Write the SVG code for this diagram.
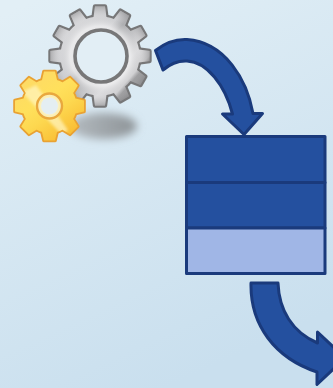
<svg xmlns="http://www.w3.org/2000/svg" width="333" height="388" viewBox="0 0 333 388">
<style>
.blue{fill:#24509f;stroke:#1a3a7c;stroke-width:3;stroke-linejoin:round}
.light{fill:#a0b6e6;stroke:#1a3a7c;stroke-width:3;stroke-linejoin:round}
.gs{stroke:#777778;stroke-width:4.400;fill:#777778;stroke-linejoin:round}
.ys{stroke:#e9a233;stroke-width:3.600;fill:#e9a233;stroke-linejoin:round}
</style>
<defs>
<linearGradient id="bg" x1="0.1" y1="0" x2="0.5" y2="1"><stop offset="0" stop-color="#e2eff6"/><stop offset="1" stop-color="#c9dfee"/></linearGradient>
<linearGradient id="gg" gradientUnits="userSpaceOnUse" x1="60" y1="22" x2="140" y2="92"><stop offset="0" stop-color="#dcdcde"/><stop offset="0.38" stop-color="#cfd0d3"/><stop offset="0.46" stop-color="#a9aaad"/><stop offset="0.72" stop-color="#dedee0"/><stop offset="0.84" stop-color="#d0d0d2"/><stop offset="0.88" stop-color="#969698"/><stop offset="1" stop-color="#858587"/></linearGradient>
<radialGradient id="edge" gradientUnits="userSpaceOnUse" cx="100" cy="56" r="50"><stop offset="0.6" stop-color="#f2f2f3" stop-opacity="0.7"/><stop offset="0.78" stop-color="#d0d0d2" stop-opacity="0.1"/><stop offset="1" stop-color="#8c8c8e" stop-opacity="0.6"/></radialGradient>
<linearGradient id="yg" gradientUnits="userSpaceOnUse" x1="25" y1="72" x2="72" y2="140"><stop offset="0" stop-color="#fdd968"/><stop offset="0.4" stop-color="#ffe05c"/><stop offset="0.6" stop-color="#fdd850"/><stop offset="1" stop-color="#f8b82e"/></linearGradient>
<linearGradient id="sh" x1="0" y1="0" x2="1" y2="0"><stop offset="0" stop-color="#b4bbc0"/><stop offset="1" stop-color="#8d9397"/></linearGradient>
<filter id="blur" x="-30%" y="-60%" width="160%" height="220%"><feGaussianBlur stdDeviation="4"/></filter>
<filter id="soft" x="-30%" y="-30%" width="160%" height="160%"><feGaussianBlur stdDeviation="1.500"/></filter>
<polygon id="bt" points="-6.500,-38.500 -5,-49.500 5,-49.500 6.500,-38.500"/>
<polygon id="st" points="-7.500,-26 -5.500,-34.500 5.500,-34.500 7.500,-26"/>
<g id="bshape">
<circle r="39.500"/>
<use href="#bt"/><use href="#bt" transform="rotate(30)"/><use href="#bt" transform="rotate(60)"/><use href="#bt" transform="rotate(90)"/><use href="#bt" transform="rotate(120)"/><use href="#bt" transform="rotate(150)"/><use href="#bt" transform="rotate(180)"/><use href="#bt" transform="rotate(210)"/><use href="#bt" transform="rotate(240)"/><use href="#bt" transform="rotate(270)"/><use href="#bt" transform="rotate(300)"/><use href="#bt" transform="rotate(330)"/>
</g>
<g id="sshape">
<circle r="27"/>
<use href="#st"/><use href="#st" transform="rotate(45)"/><use href="#st" transform="rotate(90)"/><use href="#st" transform="rotate(135)"/><use href="#st" transform="rotate(180)"/><use href="#st" transform="rotate(225)"/><use href="#st" transform="rotate(270)"/><use href="#st" transform="rotate(315)"/>
</g>
<clipPath id="bclip"><circle cx="0" cy="0" r="39.500" transform="translate(100 56)"/><use href="#bt" transform="translate(100 56)"/><use href="#bt" transform="translate(100 56) rotate(30)"/><use href="#bt" transform="translate(100 56) rotate(60)"/><use href="#bt" transform="translate(100 56) rotate(90)"/><use href="#bt" transform="translate(100 56) rotate(120)"/><use href="#bt" transform="translate(100 56) rotate(150)"/><use href="#bt" transform="translate(100 56) rotate(180)"/><use href="#bt" transform="translate(100 56) rotate(210)"/><use href="#bt" transform="translate(100 56) rotate(240)"/><use href="#bt" transform="translate(100 56) rotate(270)"/><use href="#bt" transform="translate(100 56) rotate(300)"/><use href="#bt" transform="translate(100 56) rotate(330)"/></clipPath>
<clipPath id="sclip"><circle cx="0" cy="0" r="27" transform="translate(49.500 106)"/><use href="#st" transform="translate(49.500 106)"/><use href="#st" transform="translate(49.500 106) rotate(45)"/><use href="#st" transform="translate(49.500 106) rotate(90)"/><use href="#st" transform="translate(49.500 106) rotate(135)"/><use href="#st" transform="translate(49.500 106) rotate(180)"/><use href="#st" transform="translate(49.500 106) rotate(225)"/><use href="#st" transform="translate(49.500 106) rotate(270)"/><use href="#st" transform="translate(49.500 106) rotate(315)"/></clipPath>
</defs>
<rect width="333" height="388" fill="url(#bg)"/>
<g id="gears">
<ellipse cx="103" cy="126" rx="34" ry="13" fill="url(#sh)" filter="url(#blur)"/>
<g id="big-gear">
<use href="#bshape" class="gs" transform="translate(100 56)"/>
<g clip-path="url(#bclip)">
<rect x="45" y="0" width="110" height="112" fill="url(#gg)"/>
<rect x="45" y="0" width="110" height="112" fill="url(#edge)"/>
</g>
<circle cx="101" cy="56" r="26" fill="#e2eef5" stroke="#777778" stroke-width="3.600"/>
</g>
<g id="small-gear">
<use href="#sshape" class="ys" transform="translate(49.500 106)"/>
<g clip-path="url(#sclip)">
<rect x="10" y="66" width="80" height="80" fill="url(#yg)"/>
<path d="M22 92L36 85L68 130L62 135Z" fill="#fff6c4" opacity="0.7" filter="url(#soft)"/>
</g>
<circle cx="49.500" cy="106" r="12.500" fill="#fbeeb4" stroke="#e9a83e" stroke-width="2.400"/>
<circle cx="49.500" cy="106" r="9" fill="#e4eef2" stroke="#fdf2c0" stroke-width="1"/>
</g>
</g>
<g id="connectors">
<path class="blue" d="M155.500 50.500C166 42 177 39 187 39.500C225 42 247 80 253 113.500H262.500L244 134.500L222.500 114H232.500C225 85 207 62 187 61C178 60.500 170 64 163 70Z"/>
<path class="blue" d="M251 283H278C279 310 292 332 317.500 343V332L345 358L317 384.500V372C275 358 250 325 251 283Z"/>
</g>
<g id="stack">
<rect class="blue" x="186.500" y="136.500" width="138.500" height="46"/>
<rect class="blue" x="186.500" y="182.500" width="138.500" height="45.500"/>
<rect class="light" x="186.500" y="228" width="138.500" height="45.500"/>
</g>
</svg>
